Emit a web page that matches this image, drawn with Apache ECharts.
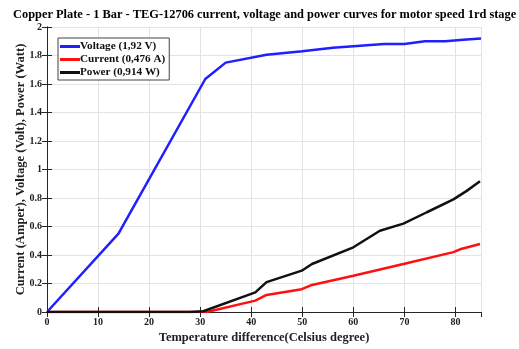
<!DOCTYPE html>
<html><head><meta charset="utf-8">
<script src="https://cdn.jsdelivr.net/npm/echarts@6/dist/echarts.min.js"></script>
<style>html,body{margin:0;padding:0;background:#fff}#c{width:519px;height:349px}</style>
</head><body><div id="c"></div>
<script>
const voltageX = [0, 14, 31, 35, 43, 50, 56, 66, 70, 74, 78, 81.5, 85];
const voltageY = [0, 0.55, 1.635, 1.75, 1.805, 1.83, 1.855, 1.88, 1.88, 1.9, 1.9, 1.91, 1.92];
const currentX = [0, 30, 31.3, 40.8, 43, 49.9, 51.9, 60, 69.8, 79.6, 80.9, 84.8];
const currentY = [0, 0, 0, 0.08, 0.12, 0.16, 0.19, 0.255, 0.337, 0.42, 0.44, 0.477];
const powerX = [0, 28, 30.6, 40.8, 43, 49.9, 51.9, 60, 65.2, 69.8, 74.4, 79.6, 82.2, 84.8];
const powerY = [0, 0, 0.005, 0.138, 0.21, 0.29, 0.337, 0.454, 0.57, 0.62, 0.70, 0.79, 0.85, 0.917];
const seriesNames = ['Voltage (1,92 V)', 'Current (0,476 A)', 'Power (0,914 W)'];
const titleText = 'Copper Plate - 1 Bar - TEG-12706 current, voltage and power curves for motor speed 1rd stage';
const xName = 'Temperature difference(Celsius degree)';
const yName = 'Current (Amper), Voltage (Volt), Power (Watt)';

const zip = (xs, ys) => xs.map((x, i) => [x, ys[i]]);
const font = 'Liberation Serif, Times New Roman, serif';
const chart = echarts.init(document.getElementById('c'));
const axisCommon = {
  axisLine: {show: true, lineStyle: {color: '#262626', width: 1}},
  axisTick: {show: true, inside: true, length: 5, lineStyle: {color: '#262626'}},
};
chart.setOption({
  animation: false,
  textStyle: {fontFamily: font},
  title: {text: titleText, left: 8, top: 4,
    textStyle: {fontFamily: font, fontWeight: 'bold', fontSize: 12.4, color: '#000'}},
  grid: {left: 47, right: 38, top: 27, bottom: 36},
  legend: {
    left: 58, top: 38, orient: 'vertical', itemGap: 2, itemWidth: 20, itemHeight: 3,
    padding: [3, 4, 2, 2], borderColor: '#444', borderWidth: 1, backgroundColor: '#fff',
    icon: 'rect',
    textStyle: {fontFamily: font, fontWeight: 'bold', fontSize: 11.2, color: '#111', padding: [0,0,0,-5]},
    data: seriesNames
  },
  xAxis: [
    Object.assign({type: 'value', min: 0, max: 85, interval: 10, name: xName, nameLocation: 'middle', nameGap: 19,
      nameMoveOverlap: false,
      nameTextStyle: {fontFamily: font, fontWeight: 'bold', fontSize: 12.5, color: '#222'},
      axisLabel: {fontFamily: font, fontWeight: 'bold', fontSize: 10, color: '#222', margin: 5,
        showMaxLabel: false},
      splitLine: {show: true, lineStyle: {color: '#e3e3e3'}}}, axisCommon),
    Object.assign({type: 'value', position: 'top', min: 0, max: 85, interval: 10,
      axisLabel: {show: false}, splitLine: {show: false}}, axisCommon)
  ],
  yAxis: [
    Object.assign({type: 'value', min: 0, max: 2, interval: 0.2, name: yName, nameLocation: 'middle', nameGap: 20,
      nameMoveOverlap: false,
      nameTextStyle: {fontFamily: font, fontWeight: 'bold', fontSize: 12.6, color: '#222'},
      axisLabel: {fontFamily: font, fontWeight: 'bold', fontSize: 10, color: '#222', margin: 5,
        formatter: v => String(Math.round(v * 10) / 10)},
      splitLine: {show: true, lineStyle: {color: '#e3e3e3'}}}, axisCommon),
    Object.assign({type: 'value', position: 'right', min: 0, max: 2, interval: 0.2,
      axisLabel: {show: false}, splitLine: {show: false}}, axisCommon)
  ],
  series: [
    {name: seriesNames[0], type: 'line', data: zip(voltageX, voltageY), showSymbol: false, color: '#1f1fff',
      lineStyle: {width: 2.5, color: '#1f1fff'}},
    {name: seriesNames[1], type: 'line', data: zip(currentX, currentY), showSymbol: false, color: '#ff1010',
      lineStyle: {width: 2.5, color: '#ff1010'}},
    {name: seriesNames[2], type: 'line', data: zip(powerX, powerY), showSymbol: false, color: '#111',
      lineStyle: {width: 2.5, color: '#111'}}
  ]
});
</script></body></html>
